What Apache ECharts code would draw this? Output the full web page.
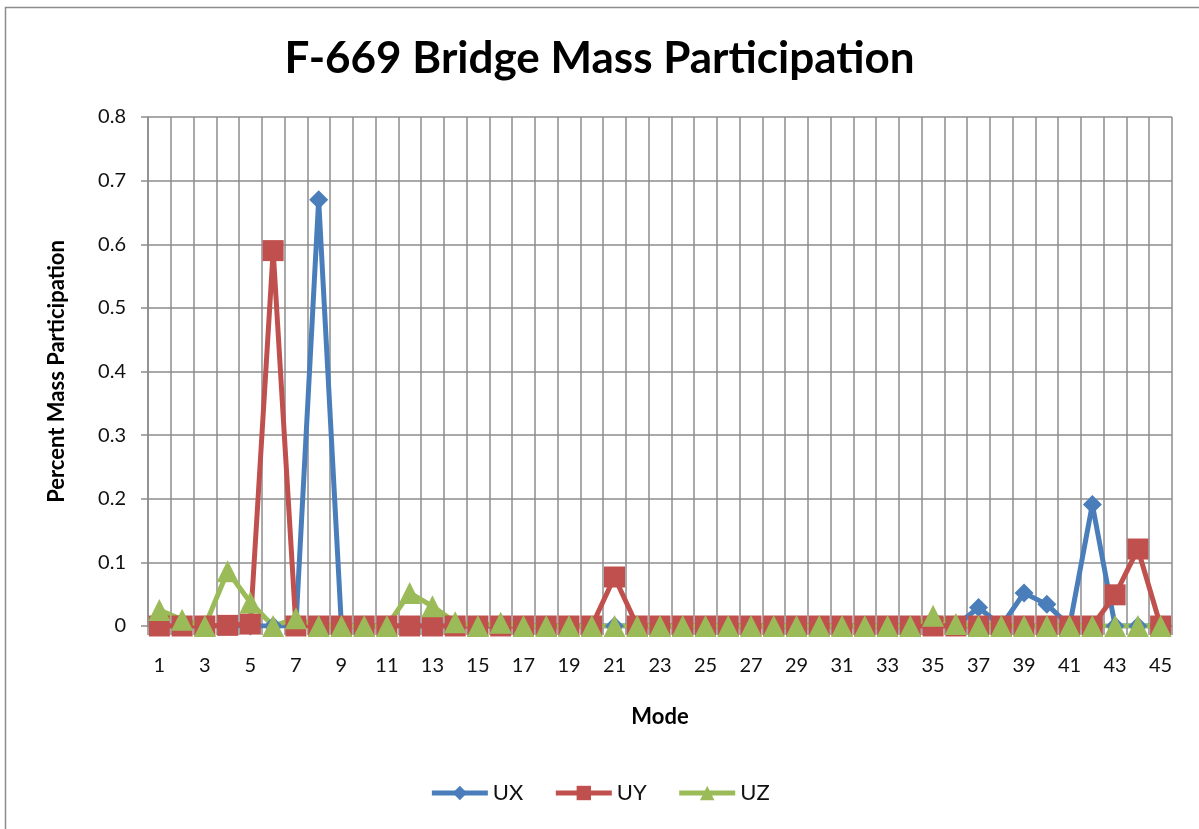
<!DOCTYPE html>
<html>
<head>
<meta charset="utf-8">
<script src="https://cdn.jsdelivr.net/npm/echarts@6/dist/echarts.min.js"></script>
<style>
  html, body { margin: 0; padding: 0; background: #fff; }
  #chart { width: 1199px; height: 829px; }
</style>
</head>
<body>
<div id="chart"></div>
<script>
// modes 1..45
var modes = [];
for (var m = 1; m <= 45; m++) modes.push(String(m));

var ux = [0, 0, 0, 0, 0, 0, 0, 0.67, 0, 0,
          0, 0, 0, 0, 0, 0, 0, 0, 0, 0,
          0, 0, 0, 0, 0, 0, 0, 0, 0, 0,
          0, 0, 0, 0, 0, 0, 0.029, 0, 0.052, 0.034,
          0, 0.191, 0, 0, 0];
var uy = [0, 0, 0, 0.001, 0.003, 0.59, 0, 0, 0, 0,
          0, 0, 0, 0, 0, 0, 0, 0, 0, 0,
          0.077, 0, 0, 0, 0, 0, 0, 0, 0, 0,
          0, 0, 0, 0, 0, 0, 0, 0, 0, 0,
          0, 0, 0.049, 0.121, 0];
var uz = [0.025, 0.01, 0, 0.086, 0.037, 0, 0.012, 0, 0, 0,
          0, 0.052, 0.031, 0.006, 0, 0.005, 0, 0, 0, 0,
          0, 0, 0, 0, 0, 0, 0, 0, 0, 0,
          0, 0, 0, 0, 0.016, 0.003, 0, 0, 0, 0,
          0, 0, 0, 0, 0];

var font = 'Lato, "Open Sans", sans-serif';
var gridColor = '#8c8c8c';

function lineSeries (name, data, symbol, size, color) {
  return {
    name: name,
    type: 'line',
    data: data,
    symbol: symbol,
    symbolSize: size,
    showAllSymbol: true,
    itemStyle: { color: color },
    lineStyle: { color: color, width: 5 },
    animation: false
  }
}

let myChart = echarts.init(document.getElementById('chart'));
myChart.setOption({
  backgroundColor: '#fff',
  textStyle: { fontFamily: font },
  graphic: [{
    type: 'rect',
    shape: { x: 5.5, y: 7.5, width: 1200, height: 830 },
    style: { fill: 'none', stroke: '#8c8c8c', lineWidth: 1.5 },
    silent: true
  }],
  title: {
    text: 'F-669 Bridge Mass Participation',
    left: 'center',
    top: 32,
    textStyle: { fontFamily: font, fontSize: 44, fontWeight: 'bold', color: '#000' }
  },
  legend: {
    bottom: 20,
    left: 'center',
    itemWidth: 56,
    itemHeight: 18,
    itemGap: 30,
    lineStyle: { width: 5 },
    textStyle: { fontFamily: font, fontSize: 22, color: '#111' },
    data: ['UX', 'UY', 'UZ']
  },
  grid: { left: 148, right: 27, top: 117, bottom: 203 },
  xAxis: {
    type: 'category',
    data: modes,
    boundaryGap: true,
    name: 'Mode',
    nameLocation: 'middle',
    nameGap: 80,
    nameTextStyle: { fontFamily: font, fontSize: 22, fontWeight: 'bold', color: '#000' },
    axisLine: { lineStyle: { color: gridColor, width: 1.5 } },
    axisTick: { show: true, interval: 0, length: 9, lineStyle: { color: gridColor, width: 1.5 } },
    axisLabel: { interval: 1, margin: 30, fontSize: 20, color: '#111', fontFamily: font },
    splitLine: { show: true, interval: 0, lineStyle: { color: gridColor, width: 1.5 } }
  },
  yAxis: {
    type: 'value',
    min: 0,
    max: 0.8,
    interval: 0.1,
    name: 'Percent Mass Participation',
    nameLocation: 'middle',
    nameGap: 80,
    nameTextStyle: { fontFamily: font, fontSize: 22, fontWeight: 'bold', color: '#000' },
    axisLine: { show: true, lineStyle: { color: gridColor, width: 1.5 } },
    axisTick: { show: true, length: 7, lineStyle: { color: gridColor, width: 1.5 } },
    axisLabel: { margin: 22, fontSize: 20, color: '#111', fontFamily: font },
    splitLine: { show: true, lineStyle: { color: gridColor, width: 1.5 } }
  },
  series: [
    lineSeries('UX', ux, 'diamond', 19, '#4a7ebb'),
    lineSeries('UY', uy, 'rect', 21, '#c0504d'),
    lineSeries('UZ', uz, 'triangle', 22, '#9bbb59')
  ]
});
</script>
</body>
</html>
